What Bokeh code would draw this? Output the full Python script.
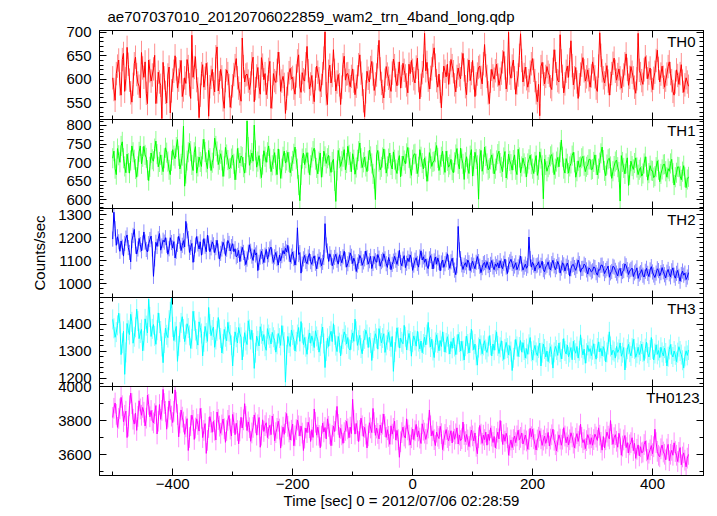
from bokeh.plotting import figure
from bokeh.layouts import column
from bokeh.models import Range1d, LinearAxis, SingleIntervalTicker, FixedTicker, Label, Grid
from bokeh.embed import file_html
from bokeh.resources import INLINE

TITLE = "ae707037010_20120706022859_wam2_trn_4band_long.qdp"
X_LABEL = "Time [sec] 0 = 2012/07/06 02:28:59"
Y_LABEL = "Counts/sec"

# bin centres (s), 2 s bins
TIME = list(range(-500, 461, 2))

TH0 = [
    603, 578, 555, 612, 628, 641, 590, 566, 642, 655, 574, 601, 668, 632, 598, 571, 551, 589, 633, 647,
    610, 592, 585, 560, 657, 624, 604, 637, 570, 548, 641, 618, 596, 609, 622, 651, 548, 573, 615, 594,
    587, 516, 636, 603, 572, 549, 609, 626, 528, 575, 598, 617, 650, 622, 581, 598, 616, 640, 563, 577,
    603, 591, 642, 627, 588, 559, 694, 604, 625, 648, 597, 579, 518, 566, 612, 631, 583, 602, 634, 611,
    521, 584, 604, 621, 590, 573, 648, 669, 575, 593, 621, 605, 556, 538, 597, 620, 612, 586, 540, 563,
    586, 610, 629, 644, 603, 581, 569, 553, 688, 627, 594, 609, 611, 596, 578, 592, 633, 647, 552, 580,
    607, 625, 584, 568, 646, 630, 599, 612, 567, 583, 621, 638, 538, 562, 612, 597, 593, 619, 658, 633,
    574, 596, 606, 589, 527, 559, 590, 614, 623, 601, 604, 581, 568, 607, 639, 652, 585, 572, 614, 599,
    596, 633, 670, 618, 579, 590, 608, 572, 552, 601, 628, 615, 601, 574, 587, 612, 645, 701, 569, 546,
    617, 630, 592, 608, 663, 619, 575, 594, 610, 588, 546, 583, 631, 649, 598, 611, 612, 597, 584, 606,
    622, 596, 567, 585, 605, 631, 652, 613, 589, 554, 520, 573, 617, 602, 594, 625, 638, 611, 576, 590,
    609, 648, 683, 622, 591, 574, 560, 598, 627, 611, 602, 585, 574, 613, 643, 629, 598, 586, 612, 637,
    581, 606, 634, 619, 607, 588, 571, 632, 612, 640, 619, 601, 592, 626, 645, 597, 558, 587, 614, 628,
    698, 618, 636, 598, 579, 604, 622, 651, 667, 630, 597, 583, 611, 574, 539, 590, 628, 617, 605, 632,
    589, 614, 642, 629, 616, 588, 573, 606, 624, 609, 601, 632, 655, 620, 584, 567, 619, 641, 597, 612,
    640, 603, 563, 590, 611, 625, 628, 604, 590, 633, 674, 629, 606, 571, 548, 596, 621, 607, 600, 618,
    632, 609, 587, 600, 613, 637, 659, 624, 579, 598, 700, 613, 602, 628, 641, 603, 568, 592, 609, 651,
    697, 640, 594, 610, 626, 601, 583, 597, 615, 633, 644, 619, 597, 571, 552, 589, 522, 627, 636, 611,
    590, 606, 627, 615, 608, 584, 578, 621, 663, 638, 612, 597, 594, 695, 639, 606, 571, 590, 617, 628,
    604, 642, 682, 629, 588, 603, 625, 594, 559, 588, 611, 630, 646, 618, 596, 605, 620, 599, 583, 607,
    637, 622, 605, 581, 574, 628, 699, 651, 618, 603, 592, 610, 629, 596, 566, 591, 612, 634, 645, 617,
    598, 610, 622, 603, 581, 596, 609, 633, 654, 621, 587, 604, 627, 615, 603, 583, 570, 601, 698, 619,
    612, 597, 589, 620, 648, 626, 601, 613, 624, 597, 578, 602, 615, 640, 662, 623, 594, 611, 628, 604,
    583, 598, 611, 627, 637, 612, 597, 574, 566, 594, 620, 608, 589, 612, 631, 596, 572, 588, 603, 594,
    585,
]

TH1 = [
    712, 731, 684, 668, 738, 720, 701, 745, 756, 712, 690, 673, 723, 699, 672, 706, 745, 728, 708, 683,
    661, 690, 729, 745, 697, 716, 744, 721, 713, 680, 652, 689, 726, 709, 704, 738, 758, 723, 689, 702,
    721, 694, 676, 712, 740, 727, 703, 681, 668, 705, 735, 719, 711, 742, 762, 718, 683, 697, 719, 798,
    637, 671, 706, 728, 752, 731, 694, 679, 728, 743, 672, 690, 715, 702, 690, 736, 763, 729, 701, 684,
    733, 712, 679, 700, 712, 766, 745, 730, 695, 708, 724, 706, 663, 690, 741, 722, 707, 684, 686, 711,
    720, 697, 654, 681, 738, 713, 699, 718, 715, 688, 672, 700, 812, 742, 693, 708, 726, 704, 801, 733,
    688, 703, 719, 684, 660, 695, 732, 716, 701, 728, 745, 711, 676, 693, 710, 727, 693, 668, 737, 709,
    658, 684, 716, 731, 699, 706, 728, 702, 673, 690, 705, 724, 742, 709, 684, 640, 598, 667, 711, 726,
    695, 712, 727, 700, 668, 693, 714, 731, 739, 708, 686, 670, 703, 726, 661, 688, 731, 717, 698, 712,
    720, 691, 674, 702, 709, 651, 596, 679, 733, 712, 690, 704, 716, 735, 681, 699, 744, 721, 702, 676,
    724, 708, 669, 687, 708, 731, 753, 712, 687, 701, 715, 690, 676, 705, 734, 717, 698, 670, 657, 601,
    721, 733, 703, 681, 689, 714, 737, 709, 672, 690, 711, 726, 694, 683, 729, 708, 682, 671, 706, 719,
    662, 691, 718, 706, 697, 725, 741, 713, 685, 666, 708, 722, 724, 697, 671, 689, 735, 716, 699, 683,
    713, 690, 650, 677, 727, 711, 690, 702, 704, 728, 746, 713, 679, 694, 716, 731, 695, 674, 731, 705,
    688, 695, 709, 680, 673, 701, 722, 738, 697, 683, 739, 711, 697, 655, 701, 716, 684, 671, 719, 735,
    664, 691, 728, 710, 693, 602, 710, 733, 677, 695, 742, 718, 698, 681, 685, 709, 721, 698, 670, 684,
    706, 723, 731, 699, 689, 676, 714, 730, 659, 682, 723, 705, 696, 680, 707, 721, 681, 668, 736, 714,
    673, 690, 712, 698, 688, 662, 698, 709, 720, 696, 684, 671, 702, 719, 666, 681, 729, 711, 693, 603,
    710, 694, 677, 688, 695, 717, 722, 700, 668, 684, 703, 714, 689, 728, 761, 716, 684, 672, 711, 697,
    672, 690, 698, 719, 728, 701, 661, 677, 705, 688, 690, 712, 717, 692, 676, 689, 694, 709, 709, 681,
    683, 702, 721, 694, 667, 684, 700, 725, 742, 707, 678, 665, 695, 709, 712, 690, 658, 677, 691, 703,
    707, 688, 675, 597, 719, 702, 686, 670, 698, 713, 639, 667, 704, 691, 682, 699, 713, 687, 668, 681,
    687, 664, 671, 698, 716, 689, 653, 672, 692, 679, 678, 660, 664, 688, 705, 681, 649, 670, 682, 695,
    696, 677, 661, 684, 677, 698, 709, 672, 640, 661, 673, 689, 688, 664, 654, 676, 692, 661, 633, 655,
    662,
]

TH2 = [
    1195, 1312, 1240, 1168, 1205, 1183, 1142, 1187, 1160, 1121, 1176, 1199, 1213, 1158, 1137, 1096, 1189, 1211, 1237, 1164,
    1130, 1152, 1198, 1171, 1144, 1178, 1226, 1182, 1150, 1139, 1175, 1193, 1208, 1152, 1033, 1109, 1181, 1163, 1196, 1219,
    1147, 1165, 1190, 1182, 1201, 1168, 1129, 1153, 1201, 1180, 1156, 1184, 1113, 1142, 1172, 1207, 1186, 1145, 1168, 1188,
    1161, 1272, 1230, 1197, 1137, 1159, 1176, 1094, 1128, 1169, 1206, 1174, 1152, 1183, 1125, 1160, 1197, 1164, 1140, 1212,
    1178, 1140, 1157, 1183, 1170, 1136, 1158, 1190, 1143, 1108, 1133, 1152, 1181, 1164, 1124, 1151, 1189, 1176, 1143, 1162,
    1175, 1140, 1153, 1118, 1124, 1146, 1097, 1131, 1159, 1137, 1112, 1084, 1108, 1138, 1170, 1142, 1121, 1102, 1149, 1126,
    1135, 1058, 1094, 1117, 1142, 1119, 1093, 1125, 1150, 1108, 1127, 1152, 1160, 1121, 1094, 1118, 1137, 1110, 1082, 1126,
    1101, 1123, 1145, 1130, 1155, 1139, 1168, 1130, 1095, 1121, 1139, 1110, 1082, 1114, 1244, 1128, 1136, 1047, 1086, 1109,
    1124, 1098, 1088, 1117, 1132, 1097, 1085, 1111, 1122, 1090, 1066, 1098, 1118, 1105, 1079, 1094, 1115, 1262, 1169, 1143,
    1098, 1131, 1115, 1079, 1096, 1115, 1129, 1103, 1086, 1127, 1110, 1092, 1118, 1142, 1105, 1073, 1088, 1106, 1135, 1120,
    1089, 1112, 1096, 1054, 1082, 1097, 1124, 1111, 1081, 1096, 1109, 1143, 1115, 1086, 1101, 1120, 1067, 1089, 1119, 1101,
    1094, 1128, 1112, 1077, 1097, 1104, 1131, 1109, 1088, 1072, 1115, 1097, 1062, 1085, 1099, 1120, 1103, 1085, 1111, 1146,
    1093, 1079, 1108, 1123, 1071, 1090, 1112, 1097, 1126, 1108, 1059, 1082, 1103, 1114, 1089, 1073, 1117, 1144, 1104, 1118,
    1094, 1108, 1078, 1067, 1109, 1123, 1098, 1065, 1100, 1117, 1086, 1113, 1094, 1057, 1091, 1104, 1072, 1088, 1105, 1131,
    1094, 1068, 1096, 1112, 1081, 1060, 1040, 1079, 1250, 1148, 1110, 1083, 1063, 1081, 1092, 1075, 1104, 1092, 1058, 1083,
    1099, 1081, 1066, 1094, 1119, 1097, 1077, 1049, 1071, 1088, 1093, 1071, 1097, 1080, 1062, 1085, 1102, 1074, 1062, 1087,
    1076, 1092, 1069, 1101, 1078, 1066, 1090, 1108, 1073, 1045, 1083, 1096, 1107, 1089, 1067, 1078, 1092, 1062, 1074, 1091,
    1121, 1087, 1060, 1073, 1086, 1068, 1079, 1204, 1110, 1073, 1094, 1082, 1056, 1079, 1082, 1096, 1069, 1081, 1099, 1062,
    1053, 1074, 1081, 1096, 1070, 1061, 1088, 1103, 1079, 1062, 1075, 1098, 1083, 1047, 1069, 1092, 1083, 1056, 1077, 1091,
    1072, 1034, 1066, 1082, 1085, 1071, 1059, 1077, 1104, 1088, 1051, 1067, 1068, 1086, 1080, 1061, 1043, 1070, 1064, 1052,
    1057, 1074, 1071, 1049, 1038, 1062, 1060, 1081, 1082, 1066, 1045, 1058, 1066, 1078, 1029, 1048, 1054, 1077, 1073, 1059,
    1047, 1035, 1061, 1068, 1036, 1054, 1058, 1087, 1079, 1062, 1041, 1056, 1063, 1069, 1032, 1048, 1055, 1070, 1024, 1043,
    1049, 1062, 1038, 1030, 1055, 1068, 1046, 1032, 1061, 1075, 1052, 1039, 1028, 1047, 1066, 1058, 1035, 1049, 1071, 1053,
    1040, 1026, 1051, 1063, 1044, 1031, 1057, 1070, 1038, 1025, 1046, 1059, 1033, 1012, 1041, 1056, 1038, 1047, 1019, 1030,
    1049,
]

TH3 = [
    1418, 1385, 1352, 1371, 1396, 1441, 1403, 1288, 1330, 1374, 1215, 1296, 1403, 1378, 1362, 1437, 1409, 1330, 1354, 1389,
    1456, 1412, 1347, 1368, 1381, 1302, 1339, 1420, 1395, 1368, 1493, 1427, 1355, 1383, 1399, 1357, 1326, 1378, 1442, 1404,
    1375, 1318, 1258, 1331, 1386, 1361, 1351, 1415, 1446, 1497, 1390, 1340, 1372, 1392, 1263, 1320, 1371, 1405, 1428, 1383,
    1336, 1362, 1402, 1386, 1359, 1311, 1346, 1448, 1412, 1377, 1345, 1323, 1409, 1388, 1366, 1283, 1335, 1392, 1368, 1337,
    1462, 1401, 1358, 1379, 1390, 1315, 1344, 1376, 1425, 1381, 1349, 1294, 1327, 1381, 1354, 1339, 1407, 1373, 1360, 1322,
    1246, 1318, 1372, 1352, 1331, 1388, 1366, 1352, 1268, 1317, 1369, 1340, 1325, 1413, 1381, 1344, 1378, 1331, 1237, 1295,
    1356, 1339, 1320, 1391, 1365, 1338, 1362, 1319, 1304, 1384, 1362, 1349, 1327, 1370, 1352, 1341, 1297, 1326, 1366, 1349,
    1322, 1395, 1358, 1334, 1186, 1287, 1355, 1331, 1318, 1379, 1360, 1343, 1301, 1335, 1362, 1388, 1337, 1410, 1367, 1325,
    1351, 1317, 1289, 1343, 1368, 1330, 1357, 1338, 1314, 1376, 1355, 1342, 1297, 1320, 1365, 1390, 1329, 1240, 1301, 1348,
    1318, 1357, 1374, 1336, 1402, 1361, 1321, 1299, 1355, 1332, 1283, 1325, 1346, 1372, 1359, 1327, 1351, 1309, 1305, 1343,
    1368, 1337, 1419, 1374, 1322, 1341, 1359, 1312, 1291, 1339, 1346, 1378, 1362, 1314, 1352, 1331, 1266, 1312, 1339, 1365,
    1348, 1308, 1384, 1357, 1331, 1349, 1365, 1296, 1322, 1343, 1370, 1339, 1317, 1355, 1226, 1297, 1336, 1387, 1352, 1312,
    1349, 1335, 1328, 1396, 1354, 1305, 1341, 1366, 1338, 1282, 1334, 1357, 1340, 1319, 1374, 1336, 1309, 1338, 1295, 1327,
    1352, 1324, 1362, 1407, 1351, 1316, 1345, 1303, 1277, 1333, 1361, 1331, 1302, 1340, 1318, 1372, 1335, 1297, 1331, 1354,
    1326, 1290, 1336, 1311, 1349, 1318, 1288, 1325, 1363, 1334, 1301, 1337, 1302, 1268, 1319, 1356, 1327, 1294, 1331, 1382,
    1340, 1306, 1327, 1285, 1249, 1314, 1345, 1322, 1291, 1322, 1339, 1307, 1296, 1318, 1358, 1322, 1283, 1327, 1304, 1341,
    1372, 1320, 1292, 1315, 1339, 1301, 1270, 1309, 1333, 1312, 1287, 1321, 1299, 1229, 1276, 1306, 1344, 1318, 1281, 1316,
    1340, 1297, 1332, 1305, 1275, 1310, 1289, 1326, 1351, 1300, 1268, 1303, 1322, 1296, 1284, 1312, 1330, 1246, 1295, 1327,
    1309, 1279, 1301, 1262, 1293, 1317, 1288, 1238, 1296, 1318, 1305, 1285, 1331, 1297, 1272, 1309, 1347, 1301, 1290, 1323,
    1280, 1296, 1314, 1269, 1337, 1305, 1293, 1318, 1275, 1302, 1361, 1313, 1287, 1308, 1256, 1293, 1322, 1299, 1310, 1284,
    1306, 1328, 1290, 1271, 1312, 1335, 1298, 1311, 1283, 1317, 1302, 1261, 1296, 1325, 1372, 1318, 1287, 1304, 1299, 1275,
    1318, 1296, 1307, 1331, 1282, 1295, 1314, 1231, 1276, 1308, 1326, 1297, 1283, 1312, 1344, 1309, 1278, 1293, 1315, 1288,
    1301, 1327, 1298, 1266, 1310, 1334, 1293, 1279, 1305, 1351, 1309, 1268, 1292, 1324, 1289, 1303, 1277, 1315, 1296, 1283,
    1312, 1294, 1246, 1280, 1307, 1325, 1290, 1279, 1301, 1287, 1262, 1295, 1317, 1301, 1288, 1267, 1238, 1281, 1302, 1285,
    1305,
]

TH0123 = [
    3820, 3874, 3905, 3838, 3762, 3815, 3871, 3938, 3889, 3795, 3833, 3857, 3702, 3769, 3889, 3963, 3902, 3810, 3781, 3846,
    3744, 3826, 3918, 3870, 3833, 3879, 3851, 3770, 3816, 3952, 3897, 3824, 3861, 3803, 3788, 3842, 3890, 3723, 3798, 3896,
    3809, 3861, 3985, 3902, 3856, 3751, 3822, 3917, 3868, 3828, 3790, 3856, 3982, 3910, 3837, 3706, 3788, 3864, 3822, 3793,
    3721, 3765, 3813, 3626, 3702, 3772, 3834, 3803, 3691, 3758, 3812, 3779, 3740, 3873, 3815, 3702, 3744, 3784, 3609, 3685,
    3761, 3825, 3791, 3733, 3797, 3745, 3688, 3852, 3808, 3769, 3727, 3776, 3811, 3754, 3674, 3743, 3803, 3832, 3752, 3711,
    3838, 3790, 3719, 3786, 3743, 3665, 3741, 3821, 3758, 3806, 3901, 3827, 3743, 3794, 3760, 3680, 3729, 3762, 3835, 3788,
    3716, 3777, 3820, 3645, 3716, 3806, 3738, 3772, 3789, 3702, 3755, 3774, 3719, 3829, 3780, 3683, 3731, 3756, 3798, 3752,
    3640, 3711, 3763, 3721, 3790, 3843, 3768, 3735, 3688, 3745, 3781, 3654, 3712, 3749, 3805, 3771, 3712, 3769, 3728, 3626,
    3699, 3758, 3731, 3792, 3760, 3679, 3748, 3703, 3870, 3792, 3716, 3763, 3715, 3642, 3710, 3787, 3735, 3761, 3694, 3812,
    3768, 3723, 3654, 3715, 3769, 3737, 3801, 3885, 3779, 3702, 3756, 3718, 3668, 3731, 3744, 3798, 3753, 3701, 3763, 3725,
    3927, 3805, 3722, 3785, 3742, 3678, 3744, 3816, 3771, 3709, 3762, 3722, 3641, 3712, 3789, 3758, 3731, 3873, 3790, 3715,
    3758, 3726, 3694, 3776, 3729, 3781, 3840, 3766, 3703, 3748, 3709, 3662, 3771, 3722, 3756, 3798, 3687, 3744, 3690, 3586,
    3677, 3731, 3763, 3711, 3699, 3812, 3747, 3716, 3658, 3701, 3752, 3690, 3742, 3779, 3706, 3741, 3699, 3667, 3783, 3745,
    3728, 3691, 3724, 3758, 3864, 3771, 3712, 3742, 3690, 3655, 3734, 3710, 3696, 3768, 3725, 3631, 3683, 3720, 3749, 3702,
    3683, 3714, 3742, 3670, 3738, 3692, 3724, 3759, 3664, 3717, 3684, 3695, 3793, 3720, 3678, 3720, 3688, 3649, 3705, 3746,
    3712, 3682, 3729, 3651, 3607, 3701, 3773, 3722, 3668, 3716, 3690, 3734, 3657, 3722, 3685, 3759, 3711, 3673, 3708, 3641,
    3696, 3734, 3694, 3802, 3739, 3662, 3719, 3680, 3727, 3701, 3598, 3655, 3688, 3643, 3690, 3711, 3672, 3712, 3745, 3689,
    3703, 3729, 3664, 3688, 3717, 3682, 3633, 3690, 3756, 3707, 3751, 3695, 3661, 3629, 3688, 3704, 3742, 3695, 3656, 3687,
    3711, 3668, 3695, 3732, 3652, 3693, 3718, 3751, 3686, 3660, 3624, 3677, 3718, 3693, 3657, 3692, 3760, 3711, 3671, 3706,
    3658, 3689, 3730, 3706, 3669, 3641, 3698, 3725, 3679, 3712, 3781, 3703, 3672, 3690, 3637, 3684, 3719, 3698, 3662, 3701,
    3657, 3690, 3722, 3705, 3685, 3759, 3716, 3673, 3628, 3708, 3641, 3689, 3734, 3710, 3694, 3802, 3720, 3662, 3701, 3719,
    3680, 3645, 3727, 3694, 3598, 3652, 3688, 3714, 3643, 3672, 3611, 3659, 3672, 3701, 3625, 3668, 3580, 3633, 3659, 3594,
    3648, 3612, 3617, 3661, 3682, 3624, 3573, 3610, 3630, 3655, 3607, 3648, 3751, 3672, 3621, 3598, 3589, 3636, 3658, 3617,
    3604, 3571, 3635, 3662, 3566, 3604, 3627, 3598, 3671, 3620, 3598, 3561, 3615, 3643, 3542, 3588, 3612, 3569, 3530, 3581,
    3603,
]

PANEL_NAMES = ["TH0", "TH1", "TH2", "TH3", "TH0123"]
PANEL_DATA = [TH0, TH1, TH2, TH3, TH0123]
PANEL_ERR = [25, 27, 33, 37, 61]
PANEL_COLORS = ["#ff0000", "#00ff00", "#0000ff", "#00ffff", "#ff00ff"]
Y_RANGES = [(514, 704), (577, 816), (941, 1328), (1170, 1499), (3479, 4002)]
Y_MAJOR = [50, 50, 100, 100, 200]
Y_MINOR = [5, 5, 5, 5, 2]
X_RANGE = (-522, 485)
X_MAJOR = 200
X_MINOR = 2

FONT = "Liberation Sans"
FS = "15px"
FRAME_H = [89, 89, 89, 89, 89]
LABEL_DX = [-8, -8, -8, -8, -4]
MAJ_LEN = 7
MIN_LEN = 4
OV = 9  # px by which neighbouring panels' canvases overlap (each side)

x_range = Range1d(*X_RANGE)


def tick_positions(lo, hi, major, nminor):
    step = major / nminor
    k = int(lo // step) + 1
    majors, minors = [], []
    while k * step <= hi:
        v = k * step
        (majors if k % nminor == 0 else minors).append(v)
        k += 1
    return majors, minors


def base_style(ax):
    ax.axis_line_color = "black"
    ax.axis_line_width = 1
    ax.major_tick_out = 0
    ax.minor_tick_out = 0
    ax.major_tick_line_color = "black"
    ax.minor_tick_line_color = "black"


def add_tick_only(p, side, lo, hi, major, nminor):
    """Unlabelled axis: two zero-width axes, one for long and one for short ticks."""
    majors, minors = tick_positions(lo, hi, major, nminor)
    for pos, length in ((majors, MAJ_LEN), (minors, MIN_LEN)):
        ax = LinearAxis(ticker=FixedTicker(ticks=[], minor_ticks=pos))
        base_style(ax)
        ax.minor_tick_in = length
        ax.major_tick_in = 0
        ax.major_label_standoff = 0
        p.add_layout(ax, side)


figs = []
n = len(PANEL_NAMES)
for i in range(n):
    first = i == 0
    last = i == n - 1
    ylo, yhi = Y_RANGES[i]
    p = figure(
        frame_width=604, frame_height=FRAME_H[i],
        x_range=x_range, y_range=Range1d(ylo, yhi),
        output_backend="svg", toolbar_location=None,
        x_axis_location=None, y_axis_location=None,
        min_border_left=99, min_border_right=6,
        min_border_top=20 if first else OV,
        min_border_bottom=0 if last else OV,
        title=TITLE if first else None,
        margin=(0, 0, 0, 0) if first else (-2 * OV, 0, 0, 0),
    )
    p.background_fill_color = "white"
    p.border_fill_color = None
    p.outline_line_color = "black"
    for g in p.select(type=Grid):
        g.visible = False

    # left, labelled
    left = LinearAxis(ticker=SingleIntervalTicker(interval=Y_MAJOR[i], num_minor_ticks=Y_MINOR[i]))
    base_style(left)
    left.major_tick_in = MAJ_LEN
    left.minor_tick_in = MIN_LEN
    left.major_label_text_font = FONT
    left.major_label_text_font_size = FS
    left.major_label_text_color = "black"
    left.major_label_standoff = 8
    if i == 2:
        left.axis_label = Y_LABEL
        left.axis_label_text_font = FONT
        left.axis_label_text_font_size = FS
        left.axis_label_text_font_style = "normal"
        left.axis_label_text_color = "black"
        left.axis_label_standoff = 7
    p.add_layout(left, "left")

    # bottom
    if last:
        below = LinearAxis(ticker=SingleIntervalTicker(interval=X_MAJOR, num_minor_ticks=X_MINOR))
        base_style(below)
        below.major_tick_in = MAJ_LEN
        below.minor_tick_in = MIN_LEN
        below.major_label_text_font = FONT
        below.major_label_text_font_size = FS
        below.major_label_text_color = "black"
        below.major_label_standoff = 3
        below.axis_label = X_LABEL
        below.axis_label_text_font = FONT
        below.axis_label_text_font_size = FS
        below.axis_label_text_font_style = "normal"
        below.axis_label_text_color = "black"
        below.axis_label_standoff = 0
        p.add_layout(below, "below")
    else:
        add_tick_only(p, "below", X_RANGE[0], X_RANGE[1], X_MAJOR, X_MINOR)

    add_tick_only(p, "above", X_RANGE[0], X_RANGE[1], X_MAJOR, X_MINOR)
    add_tick_only(p, "right", ylo, yhi, Y_MAJOR[i], Y_MINOR[i])

    if first:
        p.title.text_font = FONT
        p.title.text_font_size = FS
        p.title.text_font_style = "normal"
        p.title.text_color = "black"
        p.title.align = "left"
        p.title.offset = 8
        p.title.standoff = 11

    y = PANEL_DATA[i]
    m = min(len(y), len(TIME))
    t = TIME[:m]
    y = y[:m]
    e = PANEL_ERR[i]
    lo = [v - e for v in y]
    hi = [v + e for v in y]
    col = PANEL_COLORS[i]
    p.segment(x0=t, y0=lo, x1=t, y1=hi, line_color=col, line_alpha=0.45, line_width=1)
    p.line(t, y, line_color=col, line_width=1)

    p.add_layout(Label(
        x=X_RANGE[1], y=yhi, x_offset=LABEL_DX[i], y_offset=-2,
        text=PANEL_NAMES[i], text_align="right", text_baseline="top",
        text_font=FONT, text_font_size=FS, text_color="black",
    ))
    figs.append(p)

layout = column(*figs, spacing=0)
open("out.html", "w").write(file_html(layout, INLINE))
